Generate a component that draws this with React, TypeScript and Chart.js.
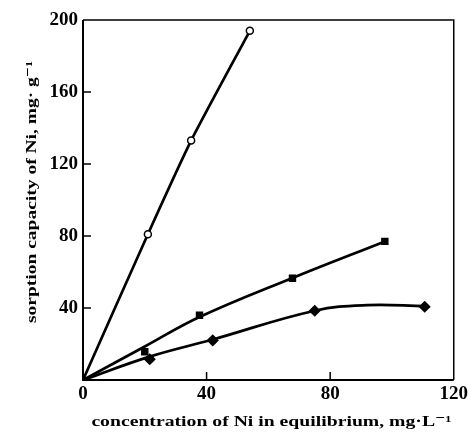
import { useEffect, useRef } from "react";
import { Chart, registerables } from "chart.js";

Chart.register(...registerables);

// Axis ticks
const xTicks = [0, 40, 80, 120];
const yTicks = [0, 40, 80, 120, 160, 200];

// Measured sorption of Ni (x: equilibrium concentration, y: sorption capacity)
const circleX = [21, 35, 54];
const circleY = [81, 133, 194];
const squareX = [20, 37.7, 67.8, 97.7];
const squareY = [15.7, 36, 56.5, 77];
const diamondX = [21.6, 42, 75, 110.6];
const diamondY = [11.5, 22, 38.5, 40.7];

// Smoothed isotherm curves, all starting at the origin
const circleFitX = [0, 21, 35, 54];
const circleFitY = [0, 81, 133, 194];
const squareFitX = [0, 20, 37.7, 67.8, 97.7];
const squareFitY = [0, 18.6, 35, 56.7, 77];
const diamondFitX = [0, 21.6, 42, 75, 92, 110.6];
const diamondFitY = [0, 13, 22.5, 38.5, 41.6, 41];

const xTitle = "concentration of Ni in equilibrium, mg\u00b7L\u207b\u00b9";
const yTitle = "sorption capacity of Ni, mg\u00b7 g\u207b\u00b9";

const FONT = '"Liberation Serif", "DejaVu Serif", serif';

const pts = (xs: number[], ys: number[]) => xs.map((x, i) => ({ x, y: ys[i] }));

const framePlugin = {
  id: "frame",
  afterDraw(chart: any) {
    const { ctx, chartArea: a, scales } = chart;
    const xs = scales.x;
    const ys = scales.y;
    ctx.save();
    ctx.strokeStyle = "#000";
    // top and right border
    ctx.lineWidth = 1.5;
    ctx.beginPath();
    ctx.moveTo(a.left, a.top);
    ctx.lineTo(a.right, a.top);
    ctx.lineTo(a.right, a.bottom);
    ctx.stroke();
    // left and bottom axes
    ctx.lineWidth = 2;
    ctx.beginPath();
    ctx.moveTo(a.left, a.top);
    ctx.lineTo(a.left, a.bottom);
    ctx.lineTo(a.right, a.bottom);
    ctx.stroke();
    // inward tick marks
    ctx.lineWidth = 1.5;
    ctx.beginPath();
    yTicks.slice(1, -1).forEach((v) => {
      const py = ys.getPixelForValue(v);
      ctx.moveTo(a.left, py);
      ctx.lineTo(a.left + 8, py);
    });
    xTicks.slice(1, -1).forEach((v) => {
      const px = xs.getPixelForValue(v);
      ctx.moveTo(px, a.bottom);
      ctx.lineTo(px, a.bottom - 8);
    });
    ctx.stroke();

    // axis titles
    ctx.fillStyle = "#000";
    ctx.font = `bold 15px ${FONT}`;
    ctx.textAlign = "center";
    ctx.textBaseline = "middle";
    const xw = ctx.measureText(xTitle).width;
    ctx.save();
    ctx.translate((a.left + a.right) / 2 + 3, 422);
    ctx.scale(360 / xw, 1);
    ctx.fillText(xTitle, 0, 0);
    ctx.restore();

    const yw = ctx.measureText(yTitle).width;
    ctx.save();
    ctx.translate(32, 192);
    ctx.rotate(-Math.PI / 2);
    ctx.scale(262 / yw, 1);
    ctx.fillText(yTitle, 0, 0);
    ctx.restore();
    ctx.restore();
  },
};

export default function App() {
  const ref = useRef<HTMLCanvasElement | null>(null);

  useEffect(() => {
    if (!ref.current) return;
    const curve = {
      borderColor: "#000",
      borderWidth: 2.7,
      tension: 0.4,
      pointRadius: 0,
      order: 2,
    };
    const marker = {
      showLine: false,
      borderColor: "#000",
      pointBorderColor: "#000",
      pointBorderWidth: 1.5,
      order: 1,
    };
    const chart = new Chart(ref.current, {
      type: "line",
      data: {
        datasets: [
          { ...curve, tension: 0.2, data: pts(circleFitX, circleFitY) },
          { ...curve, data: pts(squareFitX, squareFitY) },
          { ...curve, data: pts(diamondFitX, diamondFitY) },
          {
            ...marker,
            data: pts(circleX, circleY),
            pointStyle: "circle",
            pointRadius: 3.5,
            pointBackgroundColor: "#fff",
          },
          {
            ...marker,
            data: pts(squareX, squareY),
            pointStyle: "rect",
            pointRadius: 4.2,
            pointBackgroundColor: "#000",
          },
          {
            ...marker,
            data: pts(diamondX, diamondY),
            pointStyle: "rectRot",
            pointRadius: 5,
            pointBackgroundColor: "#000",
          },
        ],
      },
      options: {
        animation: false,
        responsive: true,
        maintainAspectRatio: false,
        layout: { padding: { top: 20, right: 16, left: 0, bottom: 0 } },
        plugins: { legend: { display: false }, tooltip: { enabled: false } },
        scales: {
          x: {
            type: "linear",
            min: 0,
            max: 120,
            afterBuildTicks: (s: any) => {
              s.ticks = xTicks.map((v) => ({ value: v }));
            },
            ticks: { color: "#000", padding: 3, maxRotation: 0, font: { family: FONT, size: 19, weight: "bold" } },
            grid: { display: false, drawTicks: false },
            border: { display: false },
            afterFit: (s: any) => {
              s.height = 64;
            },
          },
          y: {
            type: "linear",
            min: 0,
            max: 200,
            afterBuildTicks: (s: any) => {
              s.ticks = yTicks.map((v) => ({ value: v }));
            },
            ticks: {
              color: "#000",
              padding: 5,
              font: { family: FONT, size: 19, weight: "bold" },
              callback: (v: any) => (v === 0 ? "" : String(v)),
            },
            grid: { display: false, drawTicks: false },
            border: { display: false },
            afterFit: (s: any) => {
              s.width = 83;
            },
          },
        },
      },
      plugins: [framePlugin],
    });
    return () => chart.destroy();
  }, []);

  return (
    <div style={{ position: "absolute", left: 0, top: 0, width: 471, height: 444, background: "#fff" }}>
      <canvas ref={ref} />
    </div>
  );
}
